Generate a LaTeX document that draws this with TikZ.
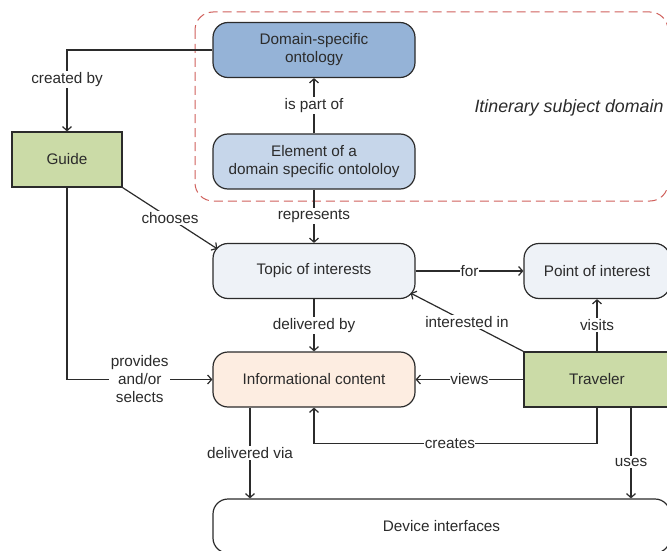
\documentclass[tikz,border=0pt]{standalone}
\usepackage{fontspec}
\setmainfont{Liberation Sans}
\usetikzlibrary{arrows.meta}

\definecolor{ontoblue}{HTML}{95B3D7}
\definecolor{elemblue}{HTML}{C6D6EA}
\definecolor{topicgray}{HTML}{EEF2F7}
\definecolor{infopeach}{HTML}{FDEDE1}
\definecolor{actorgreen}{HTML}{CBDBA7}
\definecolor{domainred}{HTML}{D0605C}
\definecolor{inkgray}{HTML}{2B2B2B}

\begin{document}
\begin{tikzpicture}[x=1pt, y=-1pt,
  every node/.style={font=\fontsize{15.3}{18}\selectfont, text=inkgray},
  box/.style={draw=inkgray, line width=1.2pt, rounded corners=15pt, align=center,
    inner sep=0pt, minimum width=202pt, minimum height=55pt},
  actor/.style={draw=inkgray, line width=1.2pt, fill=actorgreen, inner sep=0pt,
    minimum height=55pt},
  link/.style={draw=inkgray, line width=1.2pt, -{Straight Barb[length=4pt,width=9pt]}},
  lbl/.style={fill=white, inner sep=1.5pt}]
\useasboundingbox (0,0) rectangle (667,551);

% subject domain frame
\draw[domainred, line width=1pt, dash pattern=on 9pt off 5pt, rounded corners=18pt]
  (195,12) rectangle (668,201);
\node[font=\fontsize{17.8}{20}\selectfont\itshape] (domainlabel) at (569,108)
{Itinerary subject domain};

\node[box, fill=ontoblue] (dso) at (314,50)
{Domain-specific\\ontology};

\node[box, fill=elemblue] (elem) at (314,161.5)
{Element of a\\domain specific ontololoy};

\node[box, fill=topicgray] (topic) at (314,271)
{Topic of interests};

\node[box, fill=infopeach] (info) at (314,379.5)
{Informational content};

\node[box, fill=topicgray, minimum width=146pt] (poi) at (597,271)
{Point of interest};

\node[box, fill=white, minimum width=457pt, minimum height=54pt] (device) at (441.5,526)
{Device interfaces};

\node[actor, minimum width=110pt] (guide) at (67,159.5) {Guide};

\node[actor, minimum width=146pt] (traveler) at (597,379.5) {Traveler};

\coordinate (choosetip) at ([shift={(5,6)}]topic.north west);
\coordinate (interesttip) at ([shift={(-5,-6)}]topic.south east);
\coordinate (viafoot) at ([xshift=-64pt]info.south);
\coordinate (usesfoot) at ([xshift=34pt]traveler.south);

\draw[link] (dso.west) -| node[lbl, pos=0.68] {created by} (guide.north);
\draw[link] (elem.north) -- node[lbl] {is part of} (dso.south);
\draw[link] (elem.south) -- node[lbl] {represents} (topic.north);
\draw[link] (guide.south east) -- node[lbl] {chooses} (choosetip);
\draw[link] (topic.east) -- node[lbl, inner sep=0.5pt] {for} (poi.west);
\draw[link] (topic.south) -- node[lbl] {delivered by} (info.north);
\draw[link] (guide.south) |- node[lbl, pos=0.75, align=center] {provides\\and/or\\selects} (info.west);
\draw[link] (traveler.north) -- node[lbl] {visits} (poi.south);
\draw[link] (traveler.north west) -- node[lbl] {interested in} (interesttip);
\draw[link] (traveler.west) -- node[lbl, inner sep=0.5pt] {views} (info.east);
\draw[link] (traveler.south) -- ++(0,36) -| node[lbl, pos=0.26, inner sep=0.5pt] {creates} (info.south);
\draw[link] (viafoot) -- node[lbl] {delivered via} (viafoot |- device.north);
\draw[link] (usesfoot) -- node[lbl, pos=0.6] {uses} (usesfoot |- device.north);
\end{tikzpicture}
\end{document}
